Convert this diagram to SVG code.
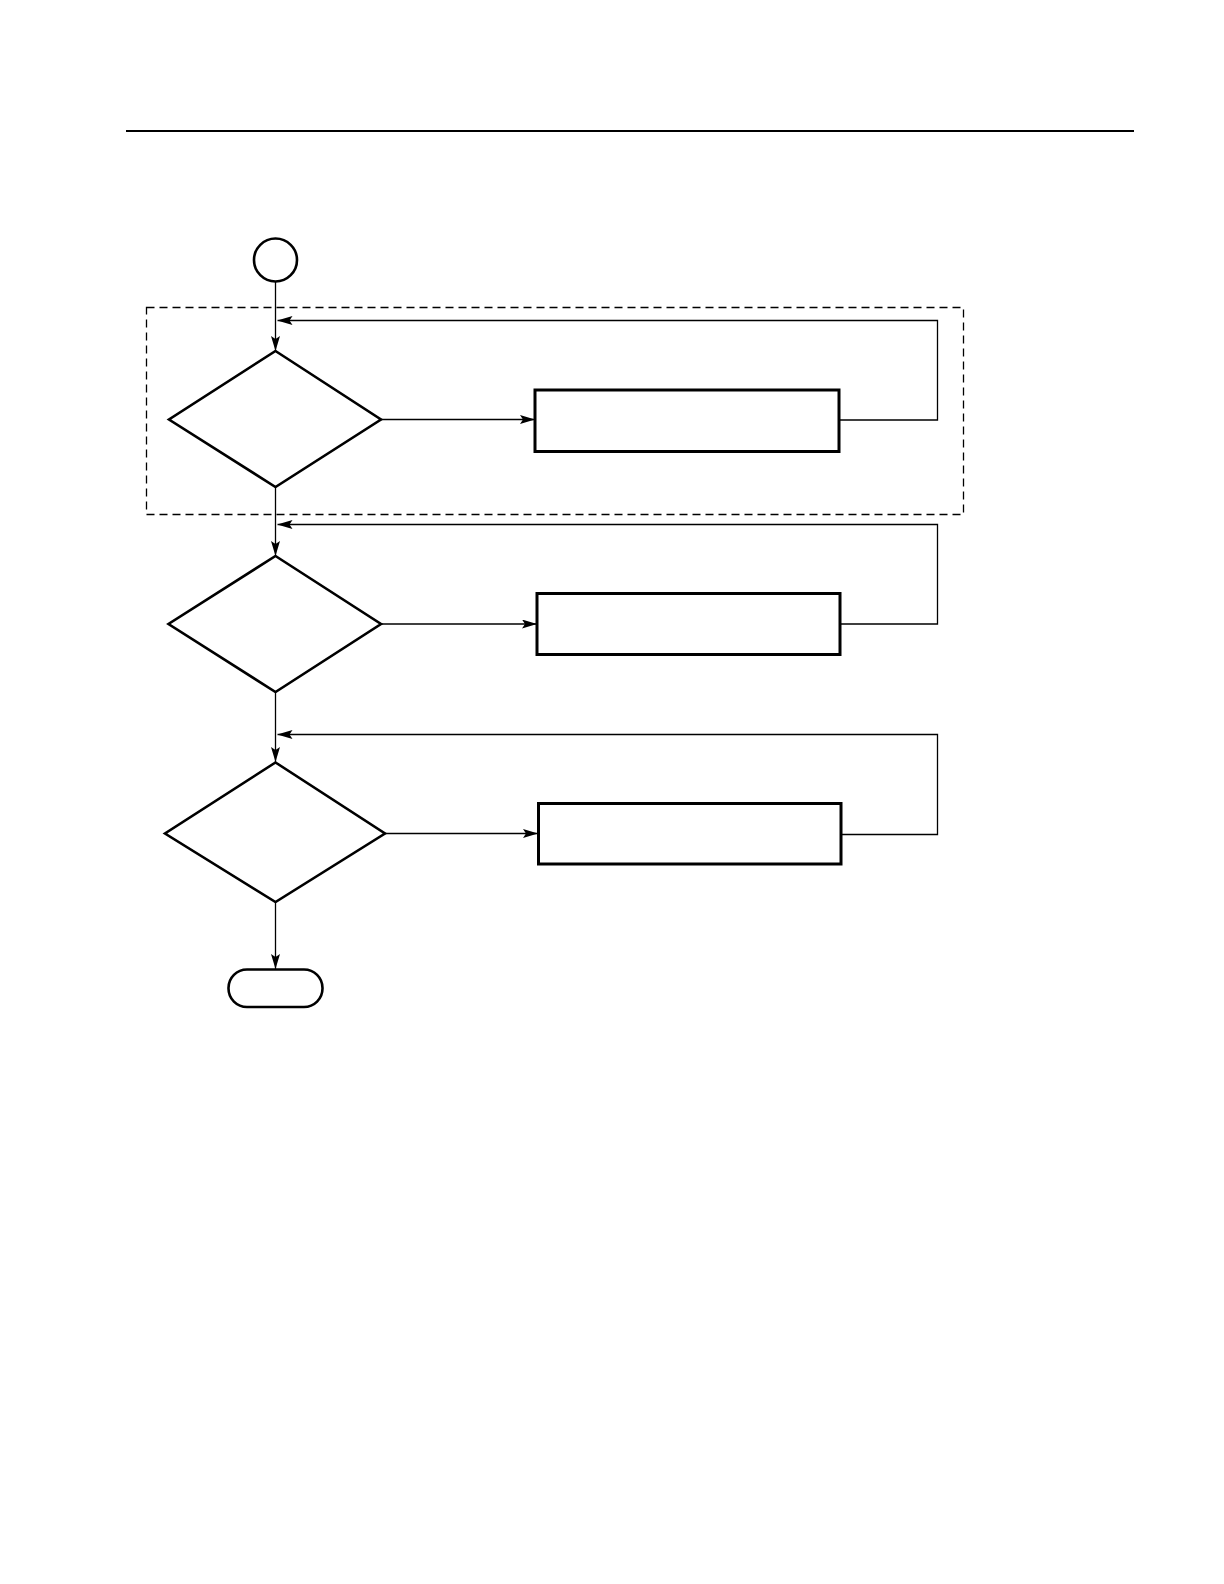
<svg xmlns="http://www.w3.org/2000/svg" width="1224" height="1584" viewBox="0 0 1224 1584">
<style>
.shape{fill:#fff;stroke:#000;stroke-width:2.6}
.box{fill:#fff;stroke:#000;stroke-width:3}
.conn{fill:none;stroke:#000;stroke-width:1.3}
.dash{fill:none;stroke:#000;stroke-width:1.3;stroke-dasharray:8 5}
</style>
<defs>
<marker id="arr" markerUnits="userSpaceOnUse" viewBox="0 0 15 9" refX="15" refY="4.5" markerWidth="15" markerHeight="9" orient="auto">
<path d="M0,0 L15,4.5 L0,9 L3,4.5 z" fill="#000"/>
</marker>
</defs>
<rect width="1224" height="1584" fill="#fff"/>
<line x1="126" y1="131" x2="1134" y2="131" stroke="#000" stroke-width="2.2"/>
<rect id="group-boundary" class="dash" x="146.5" y="307.5" width="817" height="207"/>
<g id="connectors">
<line class="conn" x1="275.5" y1="282" x2="275.5" y2="351" marker-end="url(#arr)"/>
<polyline class="conn" points="839,420 937.5,420 937.5,320.5 277.5,320.5" marker-end="url(#arr)"/>
<line class="conn" x1="381" y1="419.5" x2="535" y2="419.5" marker-end="url(#arr)"/>
<line class="conn" x1="275.5" y1="487" x2="275.5" y2="556" marker-end="url(#arr)"/>
<polyline class="conn" points="840,624 937.5,624 937.5,524.5 277.5,524.5" marker-end="url(#arr)"/>
<line class="conn" x1="381" y1="624" x2="537" y2="624" marker-end="url(#arr)"/>
<line class="conn" x1="275.5" y1="692" x2="275.5" y2="762" marker-end="url(#arr)"/>
<polyline class="conn" points="841,834.5 937.5,834.5 937.5,734.5 277.5,734.5" marker-end="url(#arr)"/>
<line class="conn" x1="385" y1="833.5" x2="538" y2="833.5" marker-end="url(#arr)"/>
<line class="conn" x1="275.5" y1="902" x2="275.5" y2="969" marker-end="url(#arr)"/>
</g>
<g id="start"><circle class="shape" cx="275.5" cy="260" r="21.5"/></g>
<g id="decision1"><polygon class="shape" points="275.5,351 381,419.5 275.5,487 169,419.5"/></g>
<g id="process1"><rect class="box" x="535" y="390" width="304" height="61.5"/></g>
<g id="decision2"><polygon class="shape" points="275.5,556 381,624 275.5,692 168.5,624"/></g>
<g id="process2"><rect class="box" x="537" y="593.5" width="303" height="61"/></g>
<g id="decision3"><polygon class="shape" points="275.5,762.5 385,833.5 275.5,902 165,833.5"/></g>
<g id="process3"><rect class="box" x="538.5" y="803.5" width="302.5" height="60.5"/></g>
<g id="end"><rect class="shape" x="228.5" y="969.5" width="94" height="37.5" rx="18.5" ry="18.5"/></g>
</svg>
